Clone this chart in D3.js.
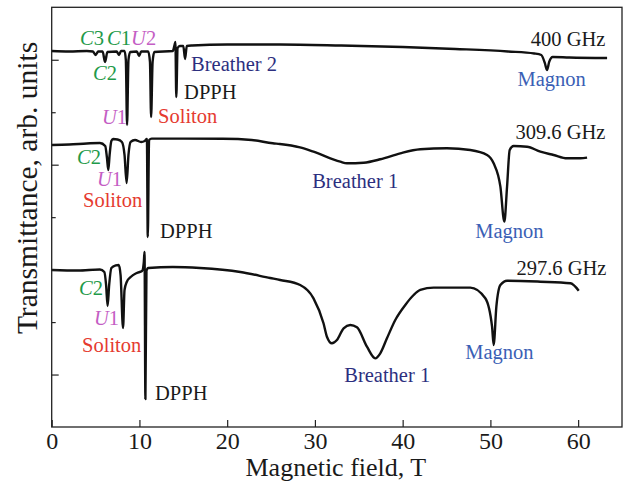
<!DOCTYPE html>
<html><head><meta charset="utf-8">
<script src="https://cdn.jsdelivr.net/npm/d3@7"></script>
<style>body{margin:0;background:#fff}svg{display:block}text{font-family:"Liberation Serif","Times New Roman",serif}</style>
</head><body><svg id="c" width="632" height="484"></svg>
<script>
// ---- data (field T, transmittance arb. units) ----
const xTicks = [0,10,20,30,40,50,60];
const yTicks = [1,2,3,4,5,6,7];
const series400 = [[0,7.167],[2,7.158],[4,7.167],[4.7,7.158],[5.0,7.091],[5.3,7.158],[5.8,7.158],[6.08,6.958],[6.35,7.148],[7.4,7.158],[7.68,7.091],[7.9,7.167],[8.3,7.167],[8.45,6.996],[8.59,5.757],[8.75,6.996],[8.95,7.148],[9.7,7.158],[9.96,7.072],[10.2,7.158],[11.0,7.158],[11.2,6.958],[11.33,5.909],[11.5,6.958],[11.7,7.148],[13.8,7.167],[14.0,7.282],[14.1,7.339],[14.2,6.291],[14.35,7.225],[14.6,7.263],[15.0,7.263],[15.2,7.015],[15.4,7.263],[16,7.272],[20,7.291],[26,7.291],[33,7.272],[40,7.244],[46,7.206],[52,7.158],[55,7.120],[55.8,7.091],[56.2,6.939],[56.45,6.805],[56.7,6.958],[57.1,7.053],[59,7.043],[63.3,7.034]];
const series3096 = [[0,5.376],[2,5.385],[4,5.404],[5.5,5.414],[6.1,5.357],[6.3,5.128],[6.45,4.899],[6.6,5.185],[6.8,5.452],[7.0,5.490],[7.5,5.480],[8.0,5.433],[8.3,5.185],[8.54,4.651],[8.75,5.185],[9.0,5.433],[9.5,5.471],[10.2,5.433],[10.6,5.452],[10.85,5.49],[10.95,3.622],[11.1,5.471],[11.4,5.497],[15,5.497],[19.5,5.494],[22.8,5.471],[25.2,5.408],[26.0,5.395],[28.3,5.330],[29.84,5.248],[32.89,5.058],[33.65,5.026],[35.55,5.038],[37.45,5.103],[39.73,5.217],[42.01,5.294],[45.05,5.313],[47.71,5.280],[49.62,5.185],[50.37,5.026],[51.14,4.581],[51.59,3.914],[51.90,4.581],[52.20,5.280],[52.65,5.356],[54.18,5.343],[55.70,5.248],[57.21,5.185],[58.74,5.122],[60.26,5.122],[61.02,5.134]];
const series2976 = [[0,2.993],[3,2.983],[5.5,3.002],[6.0,2.955],[6.2,2.707],[6.37,2.307],[6.55,2.707],[6.8,3.031],[7.3,3.08],[7.64,3.088],[7.85,2.897],[8.13,1.887],[8.3,2.612],[8.55,2.764],[9.0,2.859],[9.7,2.936],[10.3,2.974],[10.5,3.145],[10.58,3.336],[10.68,0.534],[10.8,2.974],[11.0,3.031],[13.8,3.050],[16.9,3.031],[21.5,2.955],[24.9,2.840],[26.04,2.802],[28.32,2.707],[29.84,2.453],[30.98,1.977],[31.37,1.721],[31.94,1.595],[32.51,1.658],[33.27,1.881],[34.03,1.944],[34.79,1.900],[35.93,1.531],[36.88,1.309],[37.45,1.405],[38.21,1.691],[39.16,2.040],[40.30,2.326],[41.25,2.516],[42.01,2.612],[43.53,2.656],[45.43,2.656],[47.71,2.656],[49.42,2.453],[50.19,1.912],[50.37,1.563],[50.68,2.293],[51.14,2.707],[51.90,2.789],[55.70,2.770],[59.12,2.739],[60.07,2.598]];
const seriesList = [series400, series3096, series2976];

// ---- annotation layout ----
const COL = {C:"#1f9a4a", U:"#c45ec4", S:"#e53a30", D:"#1a1a1a", B:"#2d2f7f", M:"#3b5fb5", F:"#1a1a1a"};
const labels = [
 {t:[["C",1],["3",0]], x:3.23, y:7.282, c:"C"},
 {t:[["C",1],["1",0]], x:6.31, y:7.282, c:"C"},
 {t:[["U",1],["2",0]], x:9.05, y:7.282, c:"U"},
 {t:[["C",1],["2",0]], x:4.71, y:6.615, c:"C"},
 {t:[["U",1],["1",0]], x:5.74, y:5.776, c:"U"},
 {t:[["Soliton",0]], x:12.12, y:5.795, c:"S"},
 {t:[["DPPH",0]], x:15.09, y:6.252, c:"D"},
 {t:[["Breather 2",0]], x:15.89, y:6.786, c:"B"},
 {t:[["Magnon",0]], x:53.08, y:6.500, c:"M"},
 {t:[["400 GHz",0]], x:63.11, y:7.263, c:"F", end:1},
 {t:[["C",1],["2",0]], x:2.89, y:5.013, c:"C"},
 {t:[["U",1],["1",0]], x:5.17, y:4.60, c:"U"},
 {t:[["Soliton",0]], x:3.57, y:4.194, c:"S"},
 {t:[["DPPH",0]], x:12.35, y:3.603, c:"D"},
 {t:[["Breather 1",0]], x:29.69, y:4.556, c:"B"},
 {t:[["Magnon",0]], x:48.28, y:3.603, c:"M"},
 {t:[["309.6 GHz",0]], x:63.11, y:5.490, c:"F", end:1},
 {t:[["C",1],["2",0]], x:3.11, y:2.516, c:"C"},
 {t:[["U",1],["1",0]], x:4.82, y:1.944, c:"U"},
 {t:[["Soliton",0]], x:3.46, y:1.430, c:"S"},
 {t:[["DPPH",0]], x:11.78, y:0.515, c:"D"},
 {t:[["Breather 1",0]], x:33.34, y:0.858, c:"B"},
 {t:[["Magnon",0]], x:47.14, y:1.296, c:"M"},
 {t:[["297.6 GHz",0]], x:63.22, y:2.897, c:"F", end:1}
];

const W=632,H=484, m={l:51.7,r:10,t:7.3,b:57};
const svg=d3.select("#c");
const x=d3.scaleLinear().domain([0,65]).range([m.l,W-m.r]);
const y=d3.scaleLinear().domain([0,8]).range([H-m.b,m.t]);

const line=d3.line().x(d=>x(d[0])).y(d=>y(d[1])).curve(d3.curveMonotoneX);
svg.append("g").selectAll("path").data(seriesList).join("path")
  .attr("d",line).attr("fill","none").attr("stroke","#111").attr("stroke-width",2.4).attr("stroke-linejoin","round");

// frame
svg.append("rect").attr("x",m.l).attr("y",m.t).attr("width",W-m.r-m.l).attr("height",H-m.b-m.t)
  .attr("fill","none").attr("stroke","#222").attr("stroke-width",1.3);

// x axis
const xa=svg.append("g").attr("transform",`translate(0,${H-m.b})`)
  .call(d3.axisBottom(x).tickValues(xTicks).tickSizeInner(-7).tickSizeOuter(0).tickPadding(5));
xa.select(".domain").remove();
xa.selectAll("line").attr("stroke","#222").attr("stroke-width",1.2);
xa.selectAll("text").attr("font-size",24).attr("fill","#1a1a1a").attr("font-family","Liberation Serif");

// y axis ticks (no labels)
const ya=svg.append("g").attr("transform",`translate(${m.l},0)`)
  .call(d3.axisLeft(y).tickValues(yTicks).tickSize(0).tickFormat(""));
ya.select(".domain").remove();
ya.selectAll(".tick line").attr("x2",d=>d%2?7:4).attr("stroke","#222").attr("stroke-width",1.2);

// axis titles
svg.append("text").attr("x",(m.l+W-m.r)/2-1).attr("y",476).attr("text-anchor","middle")
  .attr("font-size",26).attr("fill","#1a1a1a").text("Magnetic field, T");
svg.append("text").attr("transform",`translate(37,188) rotate(-90)`).attr("text-anchor","middle")
  .attr("font-size",29.5).attr("fill","#1a1a1a").text("Transmittance, arb. units");

// annotations
const lg=svg.append("g");
labels.forEach(L=>{
  const t=lg.append("text").attr("x",x(L.x)).attr("y",y(L.y)).attr("font-size",20.5)
    .attr("fill",COL[L.c]).attr("text-anchor",L.end?"end":"start");
  L.t.forEach(p=>t.append("tspan").attr("font-style",p[1]?"italic":"normal").text(p[0]));
});
</script></body></html>
